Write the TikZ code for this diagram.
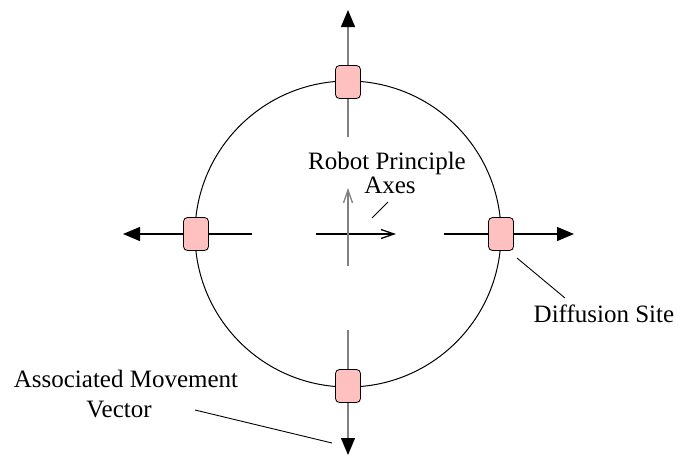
\documentclass[tikz,border=0pt]{standalone}
\usepackage{fontspec}
\setmainfont{Liberation Serif}
\usetikzlibrary{arrows.meta}
\definecolor{sitepink}{RGB}{255,192,192}
\definecolor{axisgray}{RGB}{128,128,128}
\begin{document}
\begin{tikzpicture}[x=1pt,y=-1pt,
  site/.style={draw=black, line width=0.8pt, fill=sitepink, rounded corners=4pt,
    minimum width=25pt, minimum height=33pt, inner sep=0pt},
  vec/.style={line width=1.3pt},
  big/.style={-{Triangle[length=17pt,width=14pt,color=black]}},
  small/.style={-{Straight Barb[length=13pt,width=9pt]}},
  lbl/.style={font=\rmfamily\fontsize{25}{30}\selectfont, inner sep=0pt, anchor=base},
  leader/.style={line width=0.9pt}]
\useasboundingbox (0,0) rectangle (678,456);
% circle
\coordinate (c) at (348,234);
\draw[line width=1pt] (c) circle (153pt);
% movement vectors
\coordinate (ti) at (348,137); \coordinate (to) at (348,10);
\coordinate (bi) at (348,330); \coordinate (bo) at (348,455);
\coordinate (li) at (252,234); \coordinate (lo) at (123,234);
\coordinate (ri) at (444,234); \coordinate (ro) at (574,234);
\draw[vec,axisgray,big] (ti) -- (to);
\draw[vec,axisgray,big] (bi) -- (bo);
\draw[vec,black,big] (li) -- (lo);
\draw[vec,black,big] (ri) -- (ro);
% diffusion sites
\node[site] (st) at (348,82) {};
\node[site] (sb) at (348,386) {};
\node[site] (sl) at (196,234) {};
\node[site] (sr) at (501,234) {};
% principal axes
\coordinate (hx0) at (316,234); \coordinate (hx1) at (396,234);
\coordinate (vy0) at (348,266); \coordinate (vy1) at (348,188);
\draw[vec,black,small] (hx0) -- (hx1);
\draw[vec,axisgray,small] (vy0) -- (vy1);
% labels
\node[lbl] (rp1) at (387,169) {Robot Principle};
\node[lbl] (rp2) at (390,193) {Axes};
\node[lbl] (ds) at (604,322) {Diffusion Site};
\node[lbl] (am1) at (126,387) {Associated Movement};
\node[lbl] (am2) at (119,417) {Vector};
% leaders
\coordinate (l1a) at (388,202); \coordinate (l1b) at (372,218);
\coordinate (l2a) at (517,258); \coordinate (l2b) at (565,298);
\coordinate (l3a) at (195,410); \coordinate (l3b) at (332,443);
\draw[leader] (l1a) -- (l1b);
\draw[leader] (l2a) -- (l2b);
\draw[leader] (l3a) -- (l3b);
\end{tikzpicture}
\end{document}
